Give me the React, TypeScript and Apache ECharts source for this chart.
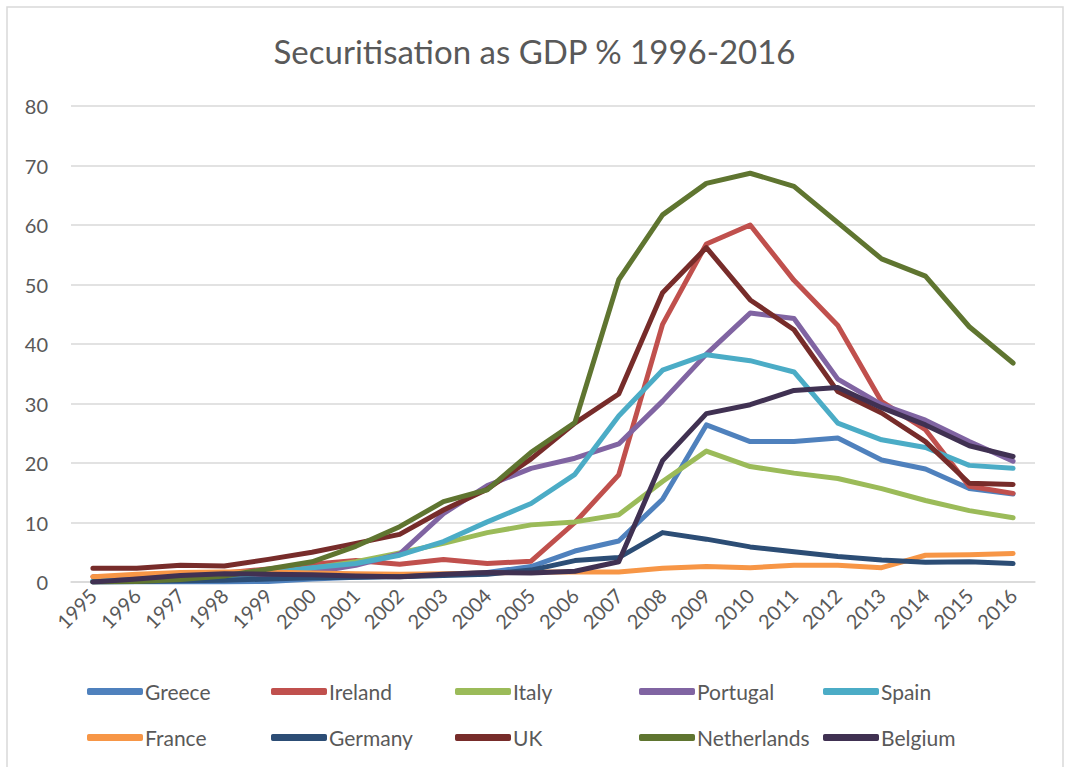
import React, { useEffect, useRef } from "react";
import * as echarts from "echarts";

const years = ["1995","1996","1997","1998","1999","2000","2001","2002","2003","2004","2005","2006","2007","2008","2009","2010","2011","2012","2013","2014","2015","2016"];
const yTicks = [0, 10, 20, 30, 40, 50, 60, 70, 80];

const greece = [0, 0, 0, 0, 0.1, 0.5, 0.8, 1.0, 1.2, 1.6, 2.6, 5.2, 6.9, 13.9, 26.4, 23.6, 23.6, 24.2, 20.5, 19.0, 15.7, 14.8];
const ireland = [0.9, 1.0, 1.2, 1.5, 2.2, 3.0, 3.6, 3.0, 3.8, 3.1, 3.5, 10.0, 18.0, 43.3, 56.8, 60.0, 50.7, 43.1, 30.3, 25.6, 16.1, 14.9];
const italy = [0.1, 0.3, 0.6, 1.0, 1.5, 2.3, 3.4, 4.9, 6.5, 8.3, 9.6, 10.1, 11.3, 16.9, 22.0, 19.4, 18.3, 17.4, 15.7, 13.7, 12.0, 10.8];
const portugal = [0.2, 0.4, 0.6, 0.8, 1.0, 1.6, 2.8, 4.7, 11.5, 16.2, 19.1, 20.8, 23.2, 30.4, 38.3, 45.2, 44.3, 34.1, 29.8, 27.2, 23.6, 20.3];
const spain = [0.2, 0.4, 0.7, 1.0, 1.5, 2.4, 3.1, 4.5, 6.8, 10.1, 13.2, 18.1, 27.9, 35.6, 38.2, 37.2, 35.3, 26.7, 23.9, 22.6, 19.6, 19.1];
const france = [0.9, 1.3, 1.6, 1.7, 1.7, 1.5, 1.4, 1.3, 1.4, 1.5, 1.7, 1.7, 1.7, 2.3, 2.6, 2.4, 2.8, 2.8, 2.4, 4.5, 4.6, 4.8];
const germany = [0, 0.1, 0.2, 0.3, 0.5, 0.7, 0.8, 0.9, 1.1, 1.3, 2.0, 3.6, 4.1, 8.3, 7.2, 5.9, 5.1, 4.3, 3.7, 3.3, 3.4, 3.1];
const uk = [2.3, 2.3, 2.8, 2.7, 3.8, 5.0, 6.5, 8.0, 12.1, 15.6, 20.7, 26.7, 31.6, 48.6, 56.2, 47.4, 42.4, 32.0, 28.4, 23.6, 16.6, 16.4];
const netherlands = [0, 0.1, 0.4, 1.0, 2.2, 3.4, 6.0, 9.3, 13.5, 15.5, 21.8, 26.8, 50.8, 61.7, 67.0, 68.7, 66.5, 60.4, 54.3, 51.4, 42.9, 36.8];
const belgium = [0, 0.5, 1.1, 1.4, 1.3, 1.2, 1.0, 0.9, 1.3, 1.6, 1.5, 1.8, 3.4, 20.4, 28.3, 29.8, 32.2, 32.7, 29.3, 26.4, 22.9, 21.1];

const seriesNames = ["Greece", "Ireland", "Italy", "Portugal", "Spain", "France", "Germany", "UK", "Netherlands", "Belgium"];
const seriesData = [greece, ireland, italy, portugal, spain, france, germany, uk, netherlands, belgium];
const seriesColors = ["#4F81BD", "#C0504D", "#9BBB59", "#8064A2", "#4BACC6", "#F79646", "#2C4D75", "#772C2A", "#5F7530", "#403152"];

const FONT = "Lato, 'Noto Sans', sans-serif";
const TXT = "#595959";

export default function App() {
  const ref = useRef<HTMLDivElement>(null);
  useEffect(() => {
    if (!ref.current) return;
    const chart = echarts.init(ref.current, undefined, { renderer: "svg" });
    const legends = seriesNames.map((name, i) => ({
      left: 82 + (i % 5) * 184,
      top: i < 5 ? 676 : 722,
      orient: "horizontal",
      icon: "roundRect",
      itemWidth: 56,
      itemHeight: 7,
      itemGap: 0,
      textStyle: { color: TXT, fontSize: 21, fontFamily: FONT, padding: [0, 0, 0, -3] },
      data: [name],
    }));
    chart.setOption({
      animation: false,
      backgroundColor: "#ffffff",
      title: {
        text: "Securitisation as GDP % 1996-2016",
        left: "center",
        top: 29,
        textStyle: { color: TXT, fontSize: 33, fontWeight: "normal", fontFamily: FONT },
      },
      graphic: [
        {
          type: "rect",
          shape: { x: 7, y: 7, width: 1056, height: 800 },
          style: { fill: "none", stroke: "#D9D9D9", lineWidth: 1.5 },
          silent: true,
          z: -1,
        },
      ],
      legend: legends,
      grid: { left: 71, right: 34, top: 106, bottom: 185, containLabel: false },
      xAxis: {
        type: "category",
        data: years,
        boundaryGap: true,
        axisLine: { show: true, lineStyle: { color: "#D9D9D9", width: 1.5 } },
        axisTick: { show: false },
        axisLabel: { rotate: 45, color: TXT, fontSize: 20, fontFamily: FONT, margin: 10 },
      },
      yAxis: {
        type: "value",
        min: yTicks[0],
        max: yTicks[yTicks.length - 1],
        interval: 10,
        axisLine: { show: false },
        axisTick: { show: false },
        splitLine: { lineStyle: { color: "#D9D9D9", width: 1.5 } },
        axisLabel: { color: TXT, fontSize: 20, fontFamily: FONT, margin: 23 },
      },
      series: seriesNames.map((name, i) => ({
        name,
        type: "line",
        data: seriesData[i],
        showSymbol: false,
        symbol: "none",
        color: seriesColors[i],
        lineStyle: { width: 5, cap: "round", join: "round", color: seriesColors[i] },
        emphasis: { disabled: true },
      })),
    });
    return () => chart.dispose();
  }, []);
  return (
    <div
      ref={ref}
      style={{ position: "fixed", left: 0, top: 0, width: 1069, height: 767, background: "#fff" }}
    />
  );
}
